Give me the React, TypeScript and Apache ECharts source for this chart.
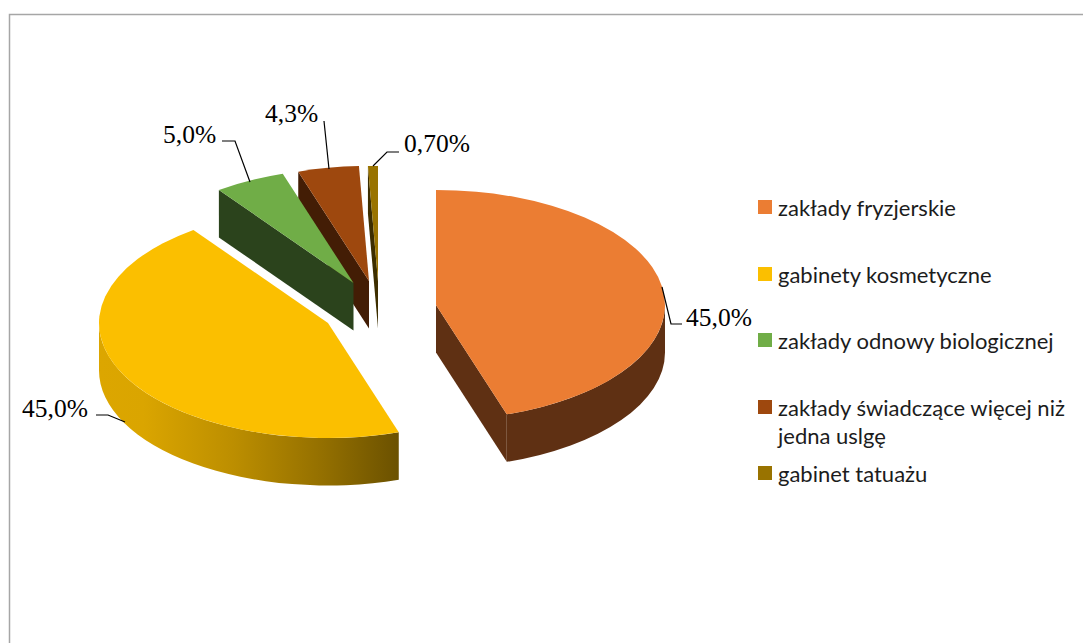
import React, { useEffect, useRef } from "react";
import * as echarts from "echarts";

const categories = [
  "zakłady fryzjerskie",
  "gabinety kosmetyczne",
  "zakłady odnowy biologicznej",
  "zakłady świadczące więcej niż\njedna uslgę",
  "gabinet tatuażu",
];
const shares = [45, 45, 5, 4.3, 0.7];
const shareLabels = ["45,0%", "45,0%", "5,0%", "4,3%", "0,70%"];

const topColors = ["#EB7D33", "#FBBF00", "#70AD47", "#9E480E", "#997300"];
const sideColors = ["#5F3013", "#DCA600", "#2B431C", "#431D05", "#3D2E00"];
const centers = [[436, 305], [328, 323], [353.5, 283], [369, 281], [378, 281]];
const labelAnchors = [[686, 317], [22, 408], [163, 134], [265, 113], [404, 143]];
const leaders = [
  [[662, 287], [671, 324], [682, 324]],
  [[96, 415], [108, 415], [125, 422]],
  [[222, 141], [235, 141], [250, 182]],
  [[324, 121], [329, 169]],
  [[399, 152], [387, 152], [373, 166]],
];
const legendTops = [191, 258, 324, 391, 457];
const seriesZ = [4, 4, 3, 2, 1];

const RX = 229;
const RY = 115;
const DEPTH = 47.5;
const rad = (d: number) => (d * Math.PI) / 180;

function sliceShape(index: number) {
  const total = shares.reduce((a, b) => a + b, 0);
  const before = shares.slice(0, index).reduce((a, b) => a + b, 0);
  const t0 = (before / total) * 360;
  const t1 = ((before + shares[index]) / total) * 360;
  const [cx, cy] = centers[index];
  const p = (t: number, dy = 0) =>
    `${(cx + RX * Math.sin(rad(t))).toFixed(2)} ${(cy - RY * Math.cos(rad(t)) + dy).toFixed(2)}`;
  const top = `M${cx} ${cy}L${p(t0)}A${RX} ${RY} 0 ${t1 - t0 > 180 ? 1 : 0} 1 ${p(t1)}Z`;
  const walls: string[] = [];
  const a = Math.max(t0, 90);
  const b = Math.min(t1, 270);
  if (b > a) {
    walls.push(
      `M${p(a)}A${RX} ${RY} 0 0 1 ${p(b)}L${p(b, DEPTH)}A${RX} ${RY} 0 0 0 ${p(a, DEPTH)}Z`
    );
  }
  const radial = (t: number) =>
    `M${cx} ${cy}L${p(t)}L${p(t, DEPTH)}L${cx} ${cy + DEPTH}Z`;
  if (Math.sin(rad(t0)) < -1e-6) walls.push(radial(t0));
  if (Math.sin(rad(t1)) > 1e-6) walls.push(radial(t1));
  return { top, walls };
}

export default function App() {
  const ref = useRef<HTMLDivElement>(null);
  useEffect(() => {
    const chart = echarts.init(ref.current!, null, { renderer: "svg" });
    const yellowGradient = new echarts.graphic.LinearGradient(0, 0, 1, 0, [
      { offset: 0, color: "#DCA600" },
      { offset: 0.15, color: "#DAA500" },
      { offset: 0.45, color: "#BC8E00" },
      { offset: 0.75, color: "#936F00" },
      { offset: 1, color: "#6B5100" },
    ]);
    const option: any = {
      animation: false,
      backgroundColor: "#fff",
      graphic: [
        {
          type: "rect",
          silent: true,
          z: 0,
          shape: { x: 9.5, y: 14.5, width: 1200, height: 800 },
          style: { fill: "none", stroke: "#A6A6A6", lineWidth: 1.5 },
        },
      ],
      legend: categories.map((name, i) => ({
        left: 758,
        top: legendTops[i],
        padding: 0,
        orient: "vertical",
        selectedMode: false,
        itemWidth: 14,
        itemHeight: i === 3 ? 42 : 14,
        data: [
          {
            name,
            icon: i === 3 ? "path://M0 0H14V14H0ZM0 42L14 42L14 42Z" : "rect",
            itemStyle: { color: topColors[i] },
          },
        ],
        textStyle: {
          fontFamily: "Lato",
          fontSize: 22,
          lineHeight: 28,
          color: "#1C1C1C",
          padding: [0, 0, 4, 1],
        },
      })),
      series: categories.map((name, i) => ({
        type: "custom",
        name,
        coordinateSystem: "none",
        z: seriesZ[i],
        silent: true,
        itemStyle: { color: topColors[i] },
        data: [[shares[i]]],
        renderItem: () => {
          const { top, walls } = sliceShape(i);
          const sideFill = i === 1 ? yellowGradient : sideColors[i];
          return {
            type: "group",
            children: [
              ...walls.map((d) => ({
                type: "path",
                shape: { pathData: d },
                style: { fill: sideFill },
              })),
              {
                type: "path",
                shape: { pathData: top },
                style: { fill: topColors[i] },
              },
              {
                type: "polyline",
                shape: { points: leaders[i] },
                style: { fill: "none", stroke: "#000", lineWidth: 1.2 },
              },
              {
                type: "text",
                x: labelAnchors[i][0],
                y: labelAnchors[i][1],
                style: {
                  text: shareLabels[i],
                  fontFamily: "Liberation Serif",
                  fontSize: 25.5,
                  fill: "#000",
                  verticalAlign: "middle",
                },
              },
            ],
          };
        },
      })),
    };
    chart.setOption(option);
    return () => chart.dispose();
  }, []);
  return (
    <div
      ref={ref}
      style={{ position: "fixed", left: 0, top: 0, width: 1083, height: 643 }}
    />
  );
}
